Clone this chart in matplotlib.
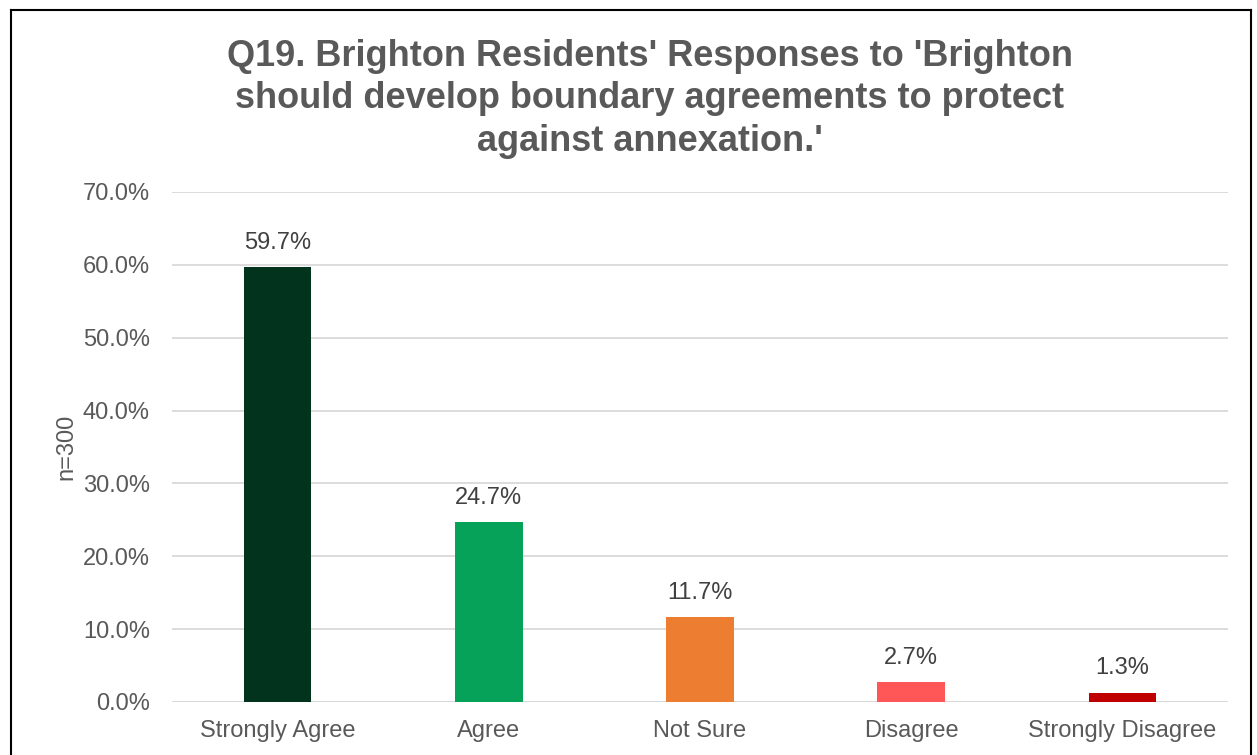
import matplotlib.pyplot as plt
from matplotlib.lines import Line2D

plt.rcParams['font.family'] = ['Liberation Sans', 'DejaVu Sans']

categories = ['Strongly Agree', 'Agree', 'Not Sure', 'Disagree', 'Strongly Disagree']
values = [59.7, 24.7, 11.7, 2.7, 1.3]
colors = ['#02341D', '#06A259', '#ED7D31', '#FF5757', '#C00000']
yticks = [0, 10, 20, 30, 40, 50, 60, 70]

gray = '#595959'

fig = plt.figure(figsize=(12.57, 7.55), dpi=100)
W, H = 1257, 755
ax = fig.add_axes([172 / W, 1 - 702 / H, (1228 - 172) / W, (702 - 192) / H])

x = range(len(categories))
ax.bar(x, values, width=0.32, color=colors, zorder=3)
for xi, v in zip(x, values):
    ax.text(xi, v + 1.8, f'{v:.1f}%', ha='center', va='bottom', fontsize=17, color='#404040')

ax.set_xlim(-0.5, len(categories) - 0.5)
ax.set_ylim(0, 70)
ax.set_yticks(yticks)
ax.set_yticklabels([f'{t:.1f}%' for t in yticks])
ax.set_xticks(list(x))
ax.set_xticklabels(categories)
ax.tick_params(axis='both', length=0, labelsize=17, colors=gray)
ax.tick_params(axis='x', pad=13)
ax.tick_params(axis='y', pad=16)
ax.grid(axis='y', color='#D9D9D9', linewidth=1.3, zorder=0)
for s in ax.spines.values():
    s.set_visible(False)
ax.axhline(0, color='#D9D9D9', linewidth=1.3, zorder=1)

ax.set_ylabel('n=300', fontsize=17, color=gray, labelpad=4)

fig.text(650 / W, 1 - 99 / H,
         "Q19. Brighton Residents' Responses to 'Brighton\n"
         "should develop boundary agreements to protect\n"
         "against annexation.'",
         ha='center', va='center', fontsize=26, fontweight='bold', color=gray,
         linespacing=1.26)

# chart border
bx0, bx1, by0 = 11 / W, 1251 / W, 1 - 10 / H
fig.add_artist(Line2D([bx0, bx1], [by0, by0], color='black', linewidth=1.5, transform=fig.transFigure))
fig.add_artist(Line2D([bx0, bx0], [by0, 0], color='black', linewidth=1.5, transform=fig.transFigure))
fig.add_artist(Line2D([bx1, bx1], [by0, 0], color='black', linewidth=1.5, transform=fig.transFigure))

fig.savefig('out.png', dpi=100)
